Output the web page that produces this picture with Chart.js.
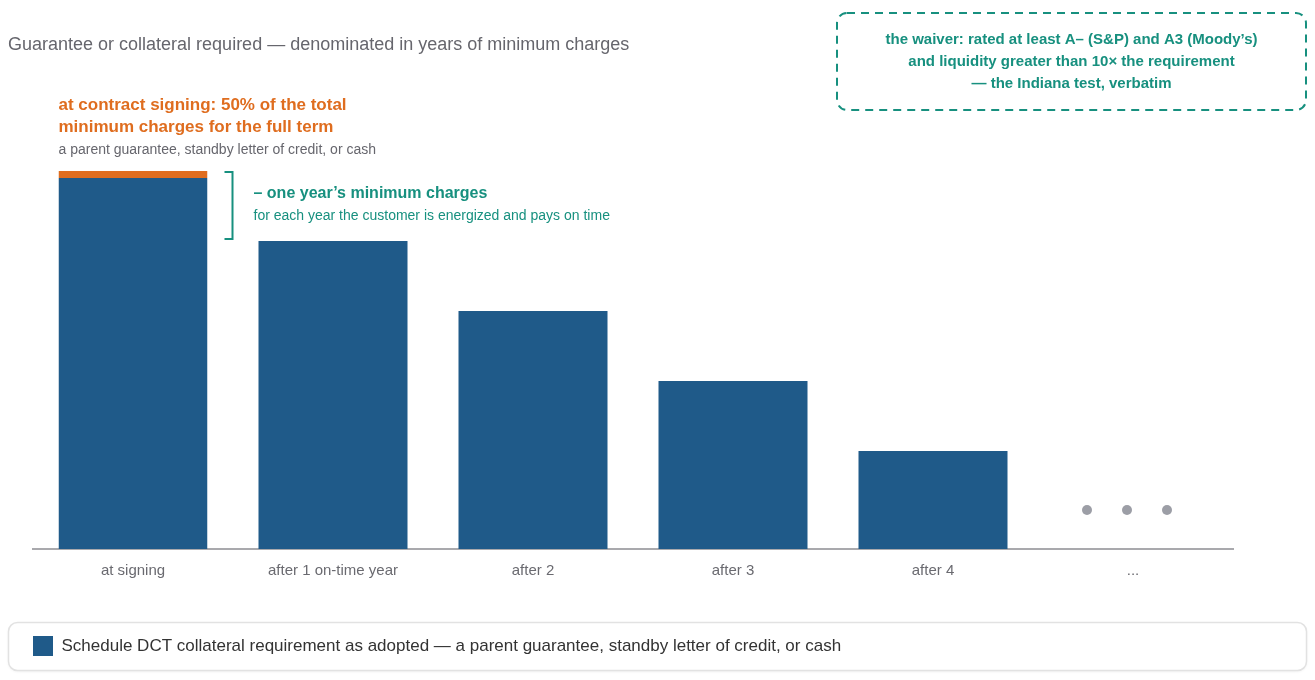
<!DOCTYPE html>
<html>
<head>
<meta charset="utf-8">
<script src="https://cdn.jsdelivr.net/npm/chart.js@4"></script>
<style>
  html, body { margin: 0; padding: 0; background: #fff; }
  #wrap { width: 1315px; height: 680px; }
</style>
</head>
<body>
<div id="wrap"><canvas id="myChart" width="1315" height="680"></canvas></div>
<script>
// 데이터
const categories = ['at signing', 'after 1 on-time year', 'after 2', 'after 3', 'after 4', '...'];
const requirement = [5.4, 4.4, 3.4, 2.4, 1.4, null]; // 최소 요금 연수 (추정)
const seriesName = 'Schedule DCT collateral requirement as adopted \u2014 a parent guarantee, standby letter of credit, or cash';

const BLUE = '#1f5a89';
const ORANGE = '#df6d1f';
const TEAL = '#17907f';
const FONT = '"Liberation Sans", Arial, Helvetica, sans-serif';

// 주석 그리기 플러그인
const notes = {
    id: 'notes',
    beforeDraw(chart) {
        const ctx = chart.ctx;
        // 범례 박스
        ctx.save();
        ctx.shadowColor = 'rgba(0,0,0,0.08)';
        ctx.shadowBlur = 3;
        ctx.shadowOffsetY = 1;
        ctx.fillStyle = '#fff';
        ctx.strokeStyle = '#e2e2e2';
        ctx.lineWidth = 1.5;
        ctx.beginPath();
        ctx.roundRect(8.5, 622.5, 1298, 48, 9);
        ctx.fill();
        ctx.shadowColor = 'transparent';
        ctx.stroke();
        ctx.restore();
    },
    afterDraw(chart) {
        const ctx = chart.ctx;
        const x = chart.scales.x, y = chart.scales.y;
        const bar0 = chart.getDatasetMeta(0).data[0];
        const left0 = bar0.x - bar0.width / 2;
        const right0 = bar0.x + bar0.width / 2;

        ctx.save();
        ctx.textBaseline = 'middle';

        // 제목
        ctx.fillStyle = '#66666d';
        ctx.font = '18px ' + FONT;
        ctx.textAlign = 'left';
        ctx.fillText('Guarantee or collateral required \u2014 denominated in years of minimum charges', 8, 45);

        // 계약 시점 주석
        ctx.fillStyle = ORANGE;
        ctx.font = 'bold 17px ' + FONT;
        ctx.fillText('at contract signing: 50% of the total', left0, 105);
        ctx.fillText('minimum charges for the full term', left0, 127);
        ctx.fillStyle = '#66666d';
        ctx.font = '14px ' + FONT;
        ctx.fillText('a parent guarantee, standby letter of credit, or cash', left0, 150);

        // 1년 감소 브래킷
        const yTop = y.getPixelForValue(requirement[0]) + 1;
        const yBot = y.getPixelForValue(requirement[1]) - 2;
        const bx = right0 + 25;
        ctx.strokeStyle = TEAL;
        ctx.lineWidth = 2;
        ctx.beginPath();
        ctx.moveTo(bx - 8, yTop);
        ctx.lineTo(bx, yTop);
        ctx.lineTo(bx, yBot);
        ctx.lineTo(bx - 8, yBot);
        ctx.stroke();
        const mid = (yTop + yBot) / 2;
        ctx.fillStyle = TEAL;
        ctx.font = 'bold 16px ' + FONT;
        ctx.fillText('\u2013 one year\u2019s minimum charges', bx + 21, mid - 12);
        ctx.font = '14px ' + FONT;
        ctx.fillText('for each year the customer is energized and pays on time', bx + 21, mid + 11);

        // 면제 조건 박스
        ctx.setLineDash([8, 6]);
        ctx.lineWidth = 2;
        ctx.beginPath();
        ctx.roundRect(837, 13, 469, 97, 10);
        ctx.stroke();
        ctx.setLineDash([]);
        ctx.textAlign = 'center';
        ctx.font = 'bold 15px ' + FONT;
        ctx.fillText('the waiver: rated at least A\u2013 (S&P) and A3 (Moody\u2019s)', 1071.5, 40);
        ctx.fillText('and liquidity greater than 10\u00d7 the requirement', 1071.5, 62);
        ctx.fillText('\u2014 the Indiana test, verbatim', 1071.5, 84);

        // 계속 표시 점
        const cx = x.getPixelForValue(5) - 6;
        const cy = y.getPixelForValue(0) - 39;
        ctx.fillStyle = '#9c9ea6';
        [-40, 0, 40].forEach(d => {
            ctx.beginPath();
            ctx.arc(cx + d, cy, 5, 0, Math.PI * 2);
            ctx.fill();
        });
        ctx.restore();
    }
};

const ctx = document.getElementById('myChart').getContext('2d');
const myChart = new Chart(ctx, {
    type: 'bar',
    data: {
        labels: categories,
        datasets: [{
            label: seriesName,
            data: requirement,
            backgroundColor: BLUE,
            borderColor: ORANGE,
            borderWidth: c => c.dataIndex === 0 ? {top: 7, left: 0, right: 0, bottom: 0} : 0,
            borderSkipped: false,
            barPercentage: 0.745,
            categoryPercentage: 1
        }]
    },
    options: {
        responsive: false,
        animation: false,
        devicePixelRatio: 1,
        layout: {
            padding: {top: 129, left: 23, right: 82, bottom: 14}
        },
        scales: {
            x: {
                grid: {display: false, drawTicks: false},
                border: {display: true, color: '#a9a9ad', width: 2},
                ticks: {
                    color: '#6a6a70',
                    font: {size: 15, family: FONT},
                    padding: 13,
                    maxRotation: 0
                },
                afterFit: s => { s.height = 77; }
            },
            y: {
                min: 0,
                max: 6,
                grid: {display: false, drawTicks: false},
                border: {display: false},
                ticks: {display: false},
                afterFit: s => { s.width = 10; }
            }
        },
        plugins: {
            legend: {
                display: true,
                position: 'bottom',
                align: 'start',
                labels: {
                    boxWidth: 20,
                    boxHeight: 20,
                    padding: 10,
                    color: '#333',
                    font: {size: 17, family: FONT},
                    generateLabels: chart => [{
                        text: seriesName,
                        fillStyle: BLUE,
                        strokeStyle: BLUE,
                        fontColor: '#333',
                        lineWidth: 0,
                        datasetIndex: 0
                    }]
                }
            },
            tooltip: {enabled: false}
        }
    },
    plugins: [notes]
});
</script>
</body>
</html>
